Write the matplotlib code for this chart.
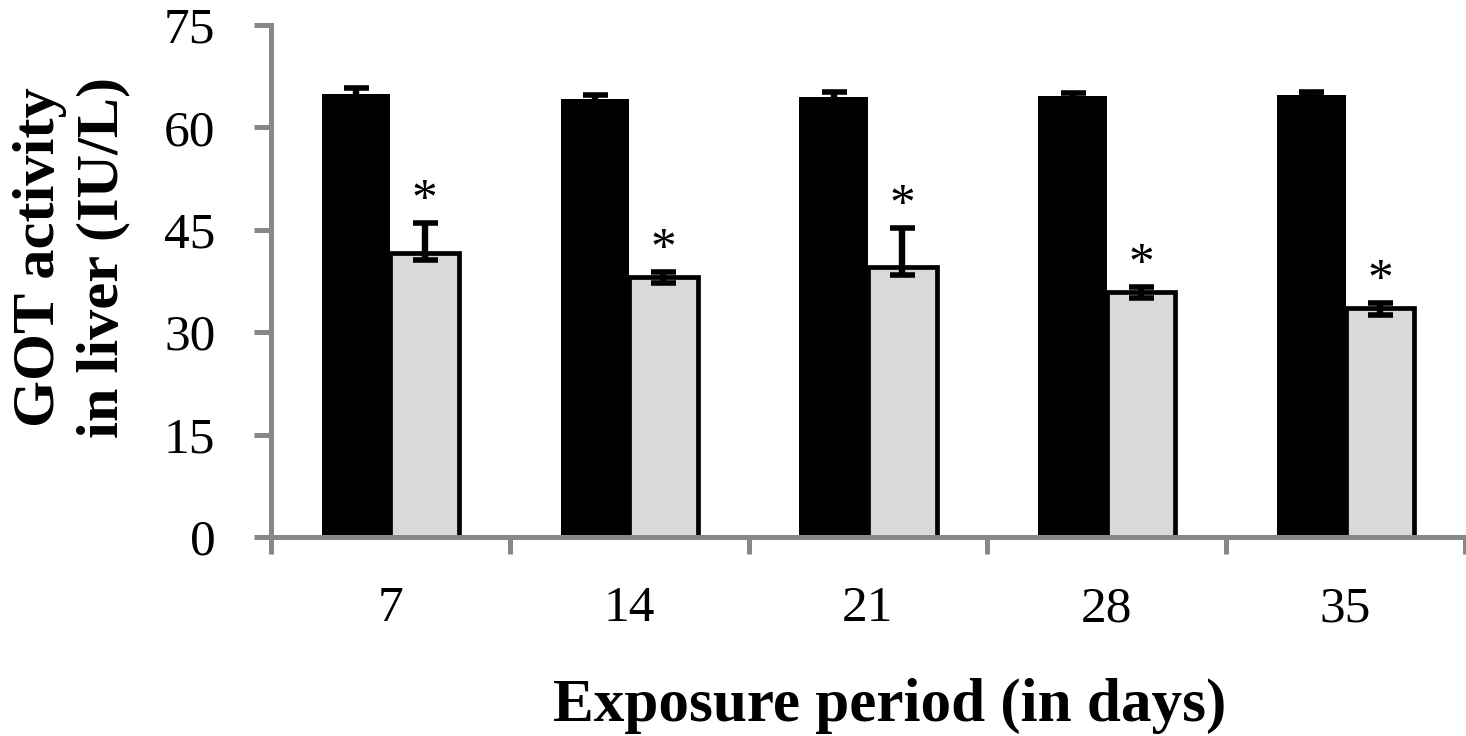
import matplotlib
matplotlib.use("Agg")
import matplotlib.pyplot as plt
import numpy as np

days = ["7", "14", "21", "28", "35"]
control = [64.9, 64.2, 64.5, 64.6, 64.8]
control_err = [0.9, 0.5, 0.7, 0.4, 0.4]
treated = [41.6, 38.1, 39.5, 35.9, 33.5]
treated_err_low = [1.0, 0.9, 1.1, 0.9, 1.0]
treated_err_high = [4.4, 0.7, 5.8, 0.7, 0.8]
yticks = [0, 15, 30, 45, 60, 75]

plt.rcParams['font.family'] = ['Liberation Serif', 'DejaVu Serif']

fig = plt.figure(figsize=(14.66, 7.36), dpi=100)
ax = fig.add_axes([271/1466, 1-537/736, (1465-271)/1466, (537-25)/736])

x = np.arange(len(days))
w = 0.287
ekw = dict(elinewidth=4.6, capthick=4.0, ecolor='black')
ax.bar(x - w/2, control, w, color='black', edgecolor='black', linewidth=0,
       yerr=control_err, capsize=9, error_kw=ekw, zorder=2)
ax.bar(x + w/2, treated, w, color='#d9d9d9', edgecolor='black', linewidth=3.4,
       yerr=[treated_err_low, treated_err_high], capsize=9, error_kw=ekw, zorder=2)

for xi, v, e in zip(x, treated, treated_err_high):
    ax.text(xi + w/2, v + e + 1.5, '*', ha='center', va='baseline', fontsize=37)

ax.set_xlim(-0.5, len(days) - 0.5)
ax.set_ylim(0, 75)
ax.set_yticks(yticks)
ax.set_yticklabels([str(t) for t in yticks])
ax.set_xticks(np.arange(len(days) + 1) - 0.5)
ax.set_xticklabels([])
ax.set_xticks(x, minor=True)
ax.set_xticklabels(days, minor=True)

for s in ['top', 'right']:
    ax.spines[s].set_visible(False)
for s in ['left', 'bottom']:
    ax.spines[s].set_color('#888888')
    ax.spines[s].set_linewidth(3.6)

ax.tick_params(axis='y', which='major', direction='out', length=12, width=3.6,
               color='#888888', labelsize=37, pad=28)
ax.tick_params(axis='x', which='major', direction='out', length=12, width=3.6,
               color='#888888')
ax.tick_params(axis='x', which='minor', length=0, labelsize=37, pad=35)

fig.text(72/1466, 1-257/736, 'GOT activity\nin liver (IU/L)', rotation=90,
         ha='center', va='center', fontsize=43.5, fontweight='bold',
         linespacing=1.22, multialignment='center')
fig.text(890/1466, 1-721/736, 'Exposure period (in days)', ha='center', va='baseline',
         fontsize=44, fontweight='bold')

fig.savefig('out.png', dpi=100)
